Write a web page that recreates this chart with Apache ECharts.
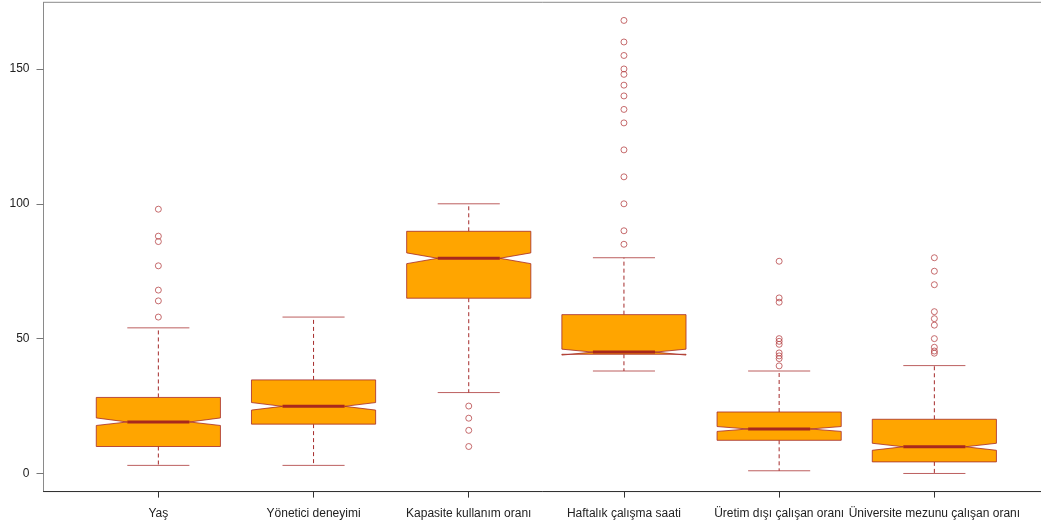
<!DOCTYPE html>
<html>
<head>
<meta charset="utf-8">
<script src="https://cdn.jsdelivr.net/npm/echarts@6/dist/echarts.min.js"></script>
<style>
html,body{margin:0;padding:0;background:#fff;}
#chart{width:1041px;height:524px;}
</style>
</head>
<body>
<div id="chart"></div>
<script>
// ---- data ----
var categories = ['Yaş', 'Yönetici deneyimi', 'Kapasite kullanım oranı', 'Haftalık çalışma saati', 'Üretim dışı çalışan oranı', 'Üniversite mezunu çalışan oranı'];
var whiskerLow  = [3, 3, 30, 38, 1, 0];
var q1          = [10, 18.3, 65, 44.2, 12.3, 4.3];
var median      = [19.1, 24.9, 79.8, 45, 16.5, 9.9];
var q3          = [28.2, 34.7, 89.8, 58.9, 22.8, 20.1];
var whiskerHigh = [54, 58, 100, 80, 38, 40];
var notchLow    = [17.8, 23.5, 77.8, 43.9, 15.6, 8.6];
var notchHigh   = [20.6, 26.3, 81.8, 46.1, 17.4, 11.2];
var outliers1 = [98, 88, 86, 77, 68, 64, 58];
var outliers2 = [];
var outliers3 = [25, 20.5, 16, 10];
var outliers4 = [168, 160, 155, 150, 148, 144, 140, 135, 130, 120, 110, 100, 90, 85];
var outliers5 = [78.7, 65.1, 63.5, 50, 49, 47.9, 44.7, 43.6, 42.6, 39.9];
var outliers6 = [80, 75, 70, 60, 57.4, 55, 50, 46.8, 45.4, 44.6];
var yTicks = [0, 50, 100, 150];

// ---- build series data ----
var boxData = categories.map(function (c, i) {
  return [i + 1, whiskerLow[i], q1[i], median[i], q3[i], whiskerHigh[i], notchLow[i], notchHigh[i]];
});
var allOut = [outliers1, outliers2, outliers3, outliers4, outliers5, outliers6];
var outData = [];
allOut.forEach(function (arr, i) {
  arr.forEach(function (v) { outData.push([i + 1, v]); });
});
var xTicks = categories.map(function (c, i) { return i + 1; });

var BORDER = '#A52A2A';
var FILL = '#FFA500';
var HALF = 0.4, NF = 0.5, STAPLE = 0.2;

function renderBox(params, api) {
  var x = api.value(0), wl = api.value(1), lq = api.value(2), md = api.value(3),
      uq = api.value(4), wh = api.value(5), nlo = api.value(6), nhi = api.value(7);
  function P(dx, y) { return api.coord([x + dx, y]); }
  var children = [];
  // whiskers (dashed)
  children.push({ type: 'line', shape: { x1: P(0, lq)[0], y1: P(0, lq)[1], x2: P(0, wl)[0], y2: P(0, wl)[1] },
    style: { stroke: BORDER, lineWidth: 1, lineDash: [4, 3] } });
  children.push({ type: 'line', shape: { x1: P(0, uq)[0], y1: P(0, uq)[1], x2: P(0, wh)[0], y2: P(0, wh)[1] },
    style: { stroke: BORDER, lineWidth: 1, lineDash: [4, 3] } });
  // staples
  children.push({ type: 'line', shape: { x1: P(-STAPLE, wl)[0], y1: P(-STAPLE, wl)[1], x2: P(STAPLE, wl)[0], y2: P(STAPLE, wl)[1] },
    style: { stroke: BORDER, lineWidth: 1, opacity: 0.75 } });
  children.push({ type: 'line', shape: { x1: P(-STAPLE, wh)[0], y1: P(-STAPLE, wh)[1], x2: P(STAPLE, wh)[0], y2: P(STAPLE, wh)[1] },
    style: { stroke: BORDER, lineWidth: 1, opacity: 0.75 } });
  // notched box (R bxp polygon)
  var pts = [
    P(-HALF, lq), P(HALF, lq), P(HALF, nlo), P(HALF * NF, md), P(HALF, nhi),
    P(HALF, uq), P(-HALF, uq), P(-HALF, nhi), P(-HALF * NF, md), P(-HALF, nlo)
  ];
  children.push({ type: 'polygon', shape: { points: pts },
    style: { fill: FILL, stroke: BORDER, lineWidth: 1, strokeOpacity: 0.8 } });
  // median
  children.push({ type: 'line', shape: { x1: P(-HALF * NF, md)[0], y1: P(0, md)[1], x2: P(HALF * NF, md)[0], y2: P(0, md)[1] },
    style: { stroke: '#A8281E', lineWidth: 3 } });
  return { type: 'group', children: children };
}

var chart = echarts.init(document.getElementById('chart'), null, { renderer: 'canvas' });
chart.setOption({
  animation: false,
  backgroundColor: '#ffffff',
  grid: {
    left: 43.5, top: 2.3, width: 1005.7, height: 489.3,
    containLabel: false, outerBoundsMode: 'none',
    show: true, borderColor: '#8a8a8a', borderWidth: 1, backgroundColor: 'transparent'
  },
  xAxis: {
    type: 'value', min: 0.26, max: 6.74,
    splitLine: { show: false },
    axisLine: { show: true, onZero: false, lineStyle: { color: '#333', width: 1 } },
    axisTick: { show: true, length: 6, customValues: xTicks, lineStyle: { color: '#333' } },
    axisLabel: {
      customValues: xTicks, margin: 16, fontSize: 12,
      fontFamily: 'Liberation Sans, Arial, sans-serif', color: '#222',
      formatter: function (v) { return categories[Math.round(v) - 1] || ''; }
    }
  },
  yAxis: {
    type: 'value', min: -6.72, max: 174.72,
    splitLine: { show: false },
    axisLine: { show: true, onZero: false, lineStyle: { color: '#8a8a8a', width: 1 } },
    axisTick: { show: true, length: 7, customValues: yTicks, lineStyle: { color: '#777' } },
    axisLabel: {
      customValues: yTicks, margin: 14, fontSize: 12,
      fontFamily: 'Liberation Sans, Arial, sans-serif', color: '#222'
    }
  },
  series: [
    {
      type: 'custom',
      coordinateSystem: 'cartesian2d',
      renderItem: renderBox,
      encode: { x: 0, y: [1, 2, 3, 4, 5, 6, 7] },
      data: boxData,
      z: 2
    },
    {
      type: 'scatter',
      data: outData,
      symbol: 'circle',
      symbolSize: 6,
      itemStyle: { color: 'rgba(0,0,0,0)', borderColor: '#B8474A', borderWidth: 1 },
      z: 3
    }
  ]
});
</script>
</body>
</html>
